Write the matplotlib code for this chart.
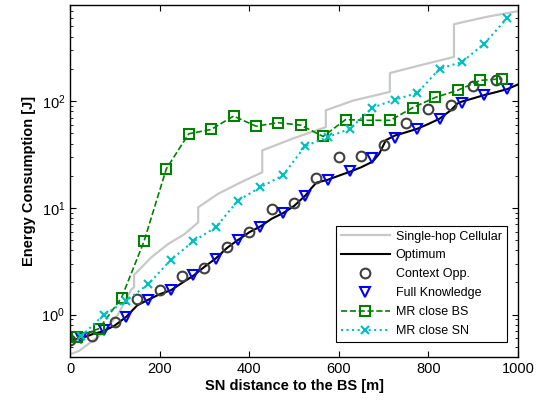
import numpy as np
import matplotlib
matplotlib.use("Agg")
import matplotlib.pyplot as plt
from matplotlib.ticker import LogLocator, NullFormatter

plt.rcParams['font.family'] = ['Liberation Sans', 'DejaVu Sans']

# Single-hop cellular (stepwise)
cell_x = [0, 20, 40, 70, 107, 137, 143, 143, 181, 219, 256, 286, 286, 330, 382, 429, 429,
          500, 571, 571, 632, 714, 714, 781, 857, 857, 930, 1000]
cell_y = [0.425, 0.456, 0.527, 0.655, 1.0, 1.73, 1.8, 2.35, 3.43, 4.58, 5.69, 7.3, 10.1, 13.5, 17.4,
          21.5, 34.5, 45, 57, 82, 101, 122, 183, 216, 259, 525, 615, 695]

# Optimum
opt_x = [0, 25, 50, 75, 100, 125, 150, 175, 200, 225, 250, 275, 300, 325, 350, 375, 400, 425,
         450, 475, 500, 525, 540, 550, 575, 600, 625, 650, 675, 690, 705, 725, 750, 775, 800,
         825, 850, 865, 875, 900, 925, 950, 975, 1000]
opt_y = [0.575, 0.60, 0.655, 0.70, 0.79, 0.95, 1.22, 1.38, 1.55, 1.69, 1.98, 2.31, 2.8, 3.35,
         4.2, 5.0, 5.9, 6.7, 7.9, 8.9, 10.4, 13.0, 15.5, 17.2, 18.3, 20, 21.8, 24, 27, 32, 43,
         47.5, 51, 55, 61, 68.4, 82, 95, 99, 106, 114, 121, 129, 143]

# Context Opp.
ctx_x = np.arange(0, 1000, 50)
ctx_y = [0.58, 0.63, 0.85, 1.40, 1.70, 2.30, 2.75, 4.25, 5.9, 9.8, 11.1, 19.2, 30, 30.5,
         38.5, 62, 84, 92.5, 137, 158]

# Full Knowledge
fk_x = np.arange(25, 1000, 50)
fk_y = [0.60, 0.71, 0.94, 1.37, 1.69, 2.34, 3.31, 5.0, 6.66, 8.9, 12.8, 18.3, 22.0, 29.2,
        45.3, 55, 68.4, 96.6, 113, 129]

# MR close BS
bs_x = np.arange(15, 1000, 50)
bs_y = [0.62, 0.74, 1.44, 4.84, 23.2, 49.4, 54.2, 72.3, 58.2, 62.7, 59.5, 46.6, 67, 66, 66,
        86.7, 108, 126, 156, 162]

# MR close SN
sn_x = np.arange(25, 1000, 50)
sn_y = [0.63, 0.99, 1.35, 1.93, 3.26, 4.84, 6.56, 11.7, 15.6, 20.1, 37.9, 45.9, 55, 86.7,
        103, 119, 201, 232, 346, 594]

fig = plt.figure(figsize=(5.43, 4.03), dpi=100)
ax = fig.add_axes([0.129, 0.114, 0.825, 0.873])

ax.plot(cell_x, cell_y, color='#c8c8c8', lw=1.6, label='Single-hop Cellular')
ax.plot(opt_x, opt_y, color='black', lw=1.5, label='Optimum')
ax.plot(ctx_x, ctx_y, ls='none', marker='o', ms=7, mfc='none', mec='#404040', mew=1.5,
        label='Context Opp.')
ax.plot(fk_x, fk_y, ls='none', marker='v', ms=7.5, mfc='none', mec='blue', mew=1.5,
        label='Full Knowledge')
ax.plot(bs_x, bs_y, ls='--', color='green', lw=1.2, marker='s', ms=6.5, mfc='none',
        mew=1.5, label='MR close BS')
ax.plot(sn_x, sn_y, ls=':', color='#00bfbf', lw=1.5, marker='x', ms=6, mew=1.5,
        label='MR close SN')

ax.set_yscale('log')
ax.set_xlim(0, 1000)
ax.set_ylim(0.4, 790)
ax.set_xticks([0, 200, 400, 600, 800, 1000])
ax.yaxis.set_major_locator(LogLocator(base=10, numticks=10))
ax.yaxis.set_minor_locator(LogLocator(base=10, subs=np.arange(2, 10), numticks=10))
ax.yaxis.set_minor_formatter(NullFormatter())
ax.tick_params(which='both', direction='in', top=True, right=True, labelsize=10.5)
ax.tick_params(which='major', length=4, width=0.8)
ax.tick_params(which='minor', length=2.5, width=0.6)
for s in ax.spines.values():
    s.set_linewidth(1.0)

ax.set_xlabel('SN distance to the BS [m]', fontsize=10.5, fontweight='bold', labelpad=2)
ax.set_ylabel('Energy Consumption [J]', fontsize=10.5, fontweight='bold', labelpad=4)

leg = ax.legend(loc='lower right', bbox_to_anchor=(0.975, 0.043), fontsize=9,
                handlelength=3.9, labelspacing=0.55, fancybox=False, framealpha=1,
                edgecolor='black', borderpad=0.4, handletextpad=0.5, borderaxespad=0)
leg.get_frame().set_linewidth(0.8)

fig.savefig('out.png', dpi=100)
